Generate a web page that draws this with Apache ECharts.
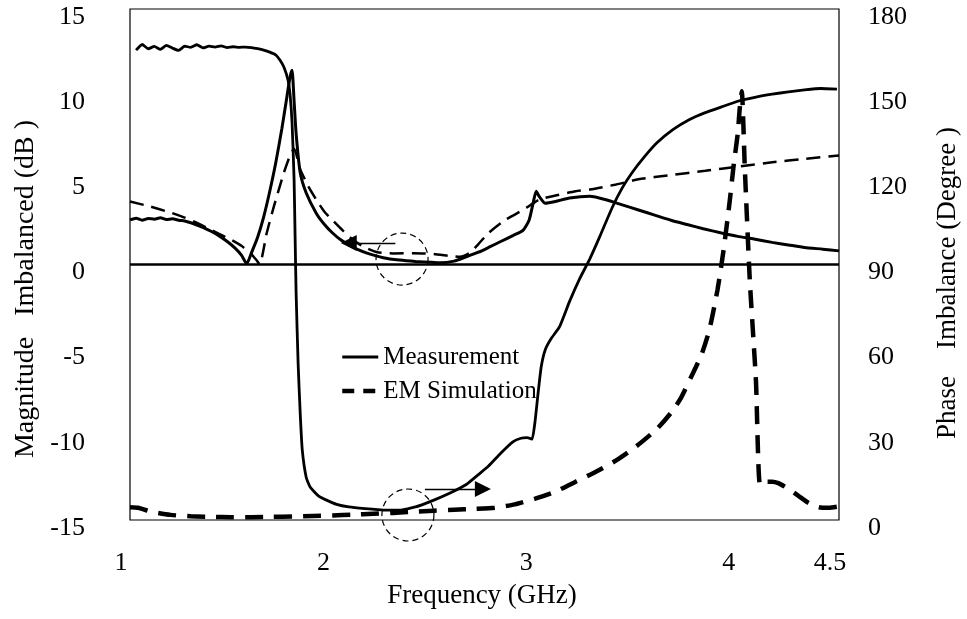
<!DOCTYPE html>
<html>
<head>
<meta charset="utf-8">
<script src="https://cdn.jsdelivr.net/npm/echarts@6/dist/echarts.min.js"></script>
<style>
  html, body { margin: 0; padding: 0; background: #fff; }
  #chart { width: 967px; height: 619px; }
</style>
</head>
<body>
<div id="chart"></div>
<script>
// Frequency ticks (GHz)
const xTicks = [1, 2, 3, 4, 4.5];

// Magnitude imbalance, measured (dB)
const magMeasFreq = [1.00, 1.03, 1.06, 1.09, 1.12, 1.15, 1.18, 1.21, 1.24, 1.27, 1.30, 1.33, 1.36, 1.40, 1.44, 1.48, 1.52, 1.55, 1.576,
  1.60, 1.63, 1.66, 1.69, 1.72, 1.75, 1.77, 1.79, 1.80, 1.81, 1.82, 1.84, 1.87, 1.92, 1.96, 2.00, 2.04, 2.08, 2.12, 2.17, 2.25, 2.33, 2.41, 2.49, 2.53,
  2.60, 2.66, 2.72, 2.77, 2.83, 2.89, 2.94, 2.97, 2.99, 3.005, 3.02, 3.05, 3.10, 3.17, 3.27, 3.35, 3.43, 3.51, 3.59, 3.67, 3.75, 3.83, 3.92,
  4.00, 4.08, 4.17, 4.25, 4.33, 4.42, 4.50];
const magMeasDb = [2.62, 2.72, 2.60, 2.70, 2.66, 2.74, 2.64, 2.68, 2.60, 2.55, 2.45, 2.32, 2.18, 1.95, 1.68, 1.35, 0.95, 0.55, 0.05,
  0.70, 1.60, 2.80, 4.30, 6.00, 8.00, 9.50, 11.0, 11.4, 9.6, 7.7, 5.4, 4.2, 3.0, 2.35, 1.85, 1.45, 1.15, 0.90, 0.67, 0.40, 0.26, 0.18, 0.13, 0.10,
  0.20, 0.45, 0.72, 1.00, 1.35, 1.70, 2.00, 2.60, 3.60, 4.30, 4.00, 3.60, 3.70, 3.90, 4.00, 3.80, 3.50, 3.20, 2.90, 2.60, 2.35, 2.10, 1.85,
  1.65, 1.50, 1.30, 1.15, 1.00, 0.90, 0.80];

// Magnitude imbalance, EM simulation (dB)
const magSimFreq = [1.00, 1.10, 1.20, 1.26, 1.32, 1.38, 1.44, 1.50, 1.55, 1.60, 1.625, 1.64, 1.675, 1.71, 1.76, 1.79, 1.81, 1.84, 1.88, 1.92,
  1.96, 2.00, 2.05, 2.10, 2.16, 2.22, 2.30, 2.40, 2.50, 2.58, 2.63, 2.68, 2.72, 2.77, 2.85, 2.94, 3.02, 3.10, 3.20, 3.27, 3.40, 3.51, 3.67,
  3.84, 4.00, 4.17, 4.33, 4.50];
const magSimDb = [3.70, 3.40, 3.05, 2.80, 2.50, 2.15, 1.80, 1.45, 1.10, 0.60, 0.25, 0.02, 1.85, 3.40, 5.40, 6.40, 6.80, 5.60, 4.60, 3.80,
  3.10, 2.60, 2.00, 1.45, 1.00, 0.72, 0.65, 0.66, 0.62, 0.50, 0.45, 0.70, 1.20, 1.85, 2.60, 3.20, 3.80, 4.05, 4.30, 4.40, 4.70, 5.00, 5.25,
  5.50, 5.75, 6.00, 6.20, 6.40];

// Phase imbalance, measured (degree)
const phaseMeasFreq = [1.03, 1.06, 1.09, 1.12, 1.15, 1.18, 1.21, 1.24, 1.27, 1.30, 1.33, 1.36, 1.39, 1.42, 1.45, 1.48, 1.51, 1.54, 1.57,
  1.60, 1.63, 1.66, 1.69, 1.72, 1.74, 1.76, 1.78, 1.79, 1.80, 1.81, 1.815, 1.82, 1.83, 1.84, 1.85, 1.87, 1.89, 1.93, 1.97, 2.02, 2.08, 2.16,
  2.25, 2.33, 2.41, 2.50, 2.58, 2.66, 2.72, 2.77, 2.83, 2.89, 2.93, 2.96, 2.985, 3.00, 3.015, 3.03, 3.05, 3.08, 3.12, 3.17, 3.22, 3.27, 3.32,
  3.38, 3.43, 3.48, 3.54, 3.60, 3.68, 3.76, 3.84, 3.92, 4.00, 4.09, 4.17, 4.25, 4.33, 4.41, 4.49];
const phaseMeasDeg = [165.5, 167.5, 166.0, 166.8, 165.8, 167.2, 166.2, 165.4, 166.9, 166.5, 167.4, 166.3, 166.9, 166.6, 167.0, 166.4, 166.7,
  166.5, 166.6, 166.4, 166.0, 165.5, 164.8, 163.8, 162.0, 159.5, 155.0, 150.0, 140.0, 120.0, 100.0, 80.0, 55.0, 38.0, 25.0, 15.0, 11.5, 8.5,
  7.0, 5.5, 4.6, 4.0, 3.5, 3.5, 4.6, 7.0, 9.5, 12.5, 16.0, 19.0, 23.5, 27.5, 28.8, 29.0, 28.5, 35.0, 45.0, 54.0, 60.0, 64.0, 68.0, 77.0,
  85.0, 92.0, 100.0, 110.0, 117.0, 122.5, 128.0, 132.8, 137.5, 141.0, 143.5, 145.5, 147.5, 149.0, 150.0, 150.8, 151.5, 152.0, 151.8];

// Phase imbalance, EM simulation (degree)
const phaseSimFreq = [1.00, 1.04, 1.10, 1.20, 1.30, 1.40, 1.50, 1.60, 1.70, 1.80, 1.90, 2.00, 2.10, 2.20, 2.30, 2.40, 2.50, 2.60, 2.70, 2.80,
  2.90, 3.00, 3.10, 3.20, 3.30, 3.40, 3.50, 3.60, 3.67, 3.72, 3.77, 3.82, 3.86, 3.90, 3.93, 3.96, 3.98, 4.00, 4.01, 4.02, 4.035, 4.06, 4.09,
  4.11, 4.14, 4.17, 4.20, 4.25, 4.30, 4.35, 4.40, 4.45, 4.50];
const phaseSimDeg = [4.5, 4.3, 3.0, 1.8, 1.3, 1.1, 1.0, 1.0, 1.1, 1.2, 1.4, 1.6, 1.9, 2.2, 2.5, 2.9, 3.3, 3.6, 3.9, 4.3,
  5.5, 7.5, 10.0, 13.5, 17.0, 21.0, 26.0, 32.0, 37.7, 43.0, 50.4, 58.0, 67.0, 81.0, 95.0, 112.0, 125.0, 136.0, 145.0, 151.0, 124.0, 84.0, 49.0,
  12.5, 13.5, 13.5, 13.0, 11.0, 8.5, 6.0, 4.5, 4.3, 4.8];

// Highlight markers: dashed circles and pointing arrows
const magCircle = [2.343, 0.32];
const phaseCircle = [2.372, 1.76];
const magArrow = [[2.31, 1.26], [2.08, 1.26]];
const phaseArrow = [[2.456, 10.9], [2.742, 10.9]];

const zip = (xs, ys) => xs.map((x, i) => [x, ys[i]]);
const FONT = 'Liberation Serif';

const chart = echarts.init(document.getElementById('chart'), null, { renderer: 'canvas' });

const circleMark = (coord) => ({
  silent: true,
  symbol: 'circle',
  symbolSize: 52,
  label: { show: false },
  itemStyle: { color: 'rgba(0,0,0,0)', borderColor: '#000', borderWidth: 1.2, borderType: [6, 4] },
  data: [{ coord: coord }]
});

const arrowMark = (pair) => ({
  silent: true,
  symbol: ['none', 'triangle'],
  symbolSize: 16,
  label: { show: false },
  itemStyle: { color: '#000' },
  lineStyle: { color: '#000', width: 1.3, type: 'solid' },
  data: [[{ coord: pair[0] }, { coord: pair[1] }]]
});

// Tick labels sit slightly below their ticks
const yLabel = (margin) => ({
  fontFamily: FONT, fontSize: 26, color: '#000', margin: margin,
  verticalAlign: 'top', lineHeight: 16
});

chart.setOption({
  animation: false,
  backgroundColor: '#fff',
  grid: { left: 130, right: 128, top: 9, bottom: 99, show: true, borderColor: '#000', borderWidth: 1.2 },
  legend: {
    left: 340, top: 344, orient: 'vertical', itemWidth: 36, itemHeight: 14, itemGap: 8, padding: 0,
    selectedMode: false,
    itemStyle: { opacity: 0 },
    textStyle: { fontFamily: FONT, fontSize: 25, color: '#000', lineHeight: 26 },
    data: [
      { name: 'Measurement', lineStyle: { width: 3, type: 'solid', color: '#000' } },
      { name: 'EM Simulation', lineStyle: { width: 4.5, type: [12, 9], color: '#000' } }
    ]
  },
  xAxis: {
    type: 'value', min: xTicks[0], max: xTicks[xTicks.length - 1], interval: 1,
    axisLine: { show: false, onZero: false }, axisTick: { show: false }, splitLine: { show: false },
    axisLabel: { fontFamily: FONT, fontSize: 26, color: '#000', margin: 30, padding: [0, 18, 0, 0] }
  },
  yAxis: [
    {
      type: 'value', min: -15, max: 15, interval: 5,
      axisLine: { show: false }, axisTick: { show: false }, splitLine: { show: false },
      axisLabel: yLabel(45)
    },
    {
      type: 'value', min: 0, max: 180, interval: 30, position: 'right',
      axisLine: { show: false }, axisTick: { show: false }, splitLine: { show: false },
      axisLabel: yLabel(29)
    }
  ],
  graphic: [
    { type: 'text', x: 26, y: 289, rotation: Math.PI / 2,
      style: { text: 'Magnitude   Imbalanced (dB )', fontFamily: FONT, fontSize: 28, fill: '#000', align: 'center', verticalAlign: 'middle' } },
    { type: 'text', x: 948, y: 283, rotation: Math.PI / 2,
      style: { text: 'Phase    Imbalance (Degree )', fontFamily: FONT, fontSize: 27, fill: '#000', align: 'center', verticalAlign: 'middle' } },
    { type: 'text', x: 482, y: 596,
      style: { text: 'Frequency (GHz)', fontFamily: FONT, fontSize: 27, fill: '#000', align: 'center', verticalAlign: 'middle' } }
  ],
  series: [
    {
      name: 'Measurement', type: 'line', yAxisIndex: 0, data: zip(magMeasFreq, magMeasDb),
      showSymbol: false, symbol: 'none', smooth: 0.2,
      itemStyle: { color: '#000' },
      lineStyle: { color: '#000', width: 3 },
      markLine: {
        silent: true, symbol: 'none', label: { show: false },
        lineStyle: { color: '#000', width: 2.5, type: 'solid' },
        data: [{ yAxis: 0 }]
      },
      markPoint: circleMark(magCircle)
    },
    {
      name: 'EM Simulation', type: 'line', yAxisIndex: 0, data: zip(magSimFreq, magSimDb),
      showSymbol: false, symbol: 'none', smooth: 0.2,
      itemStyle: { color: '#000' },
      lineStyle: { color: '#000', width: 2.5, type: [14, 8] },
      markLine: arrowMark(magArrow)
    },
    {
      name: 'Measurement', type: 'line', yAxisIndex: 1, data: zip(phaseMeasFreq, phaseMeasDeg),
      showSymbol: false, symbol: 'none', smooth: 0.15,
      itemStyle: { color: '#000' },
      lineStyle: { color: '#000', width: 2.8 },
      markPoint: circleMark(phaseCircle)
    },
    {
      name: 'EM Simulation', type: 'line', yAxisIndex: 1, data: zip(phaseSimFreq, phaseSimDeg),
      showSymbol: false, symbol: 'none', smooth: 0.2,
      itemStyle: { color: '#000' },
      lineStyle: { color: '#000', width: 4.5, type: [18, 11] },
      markLine: arrowMark(phaseArrow)
    }
  ]
});
</script>
</body>
</html>
